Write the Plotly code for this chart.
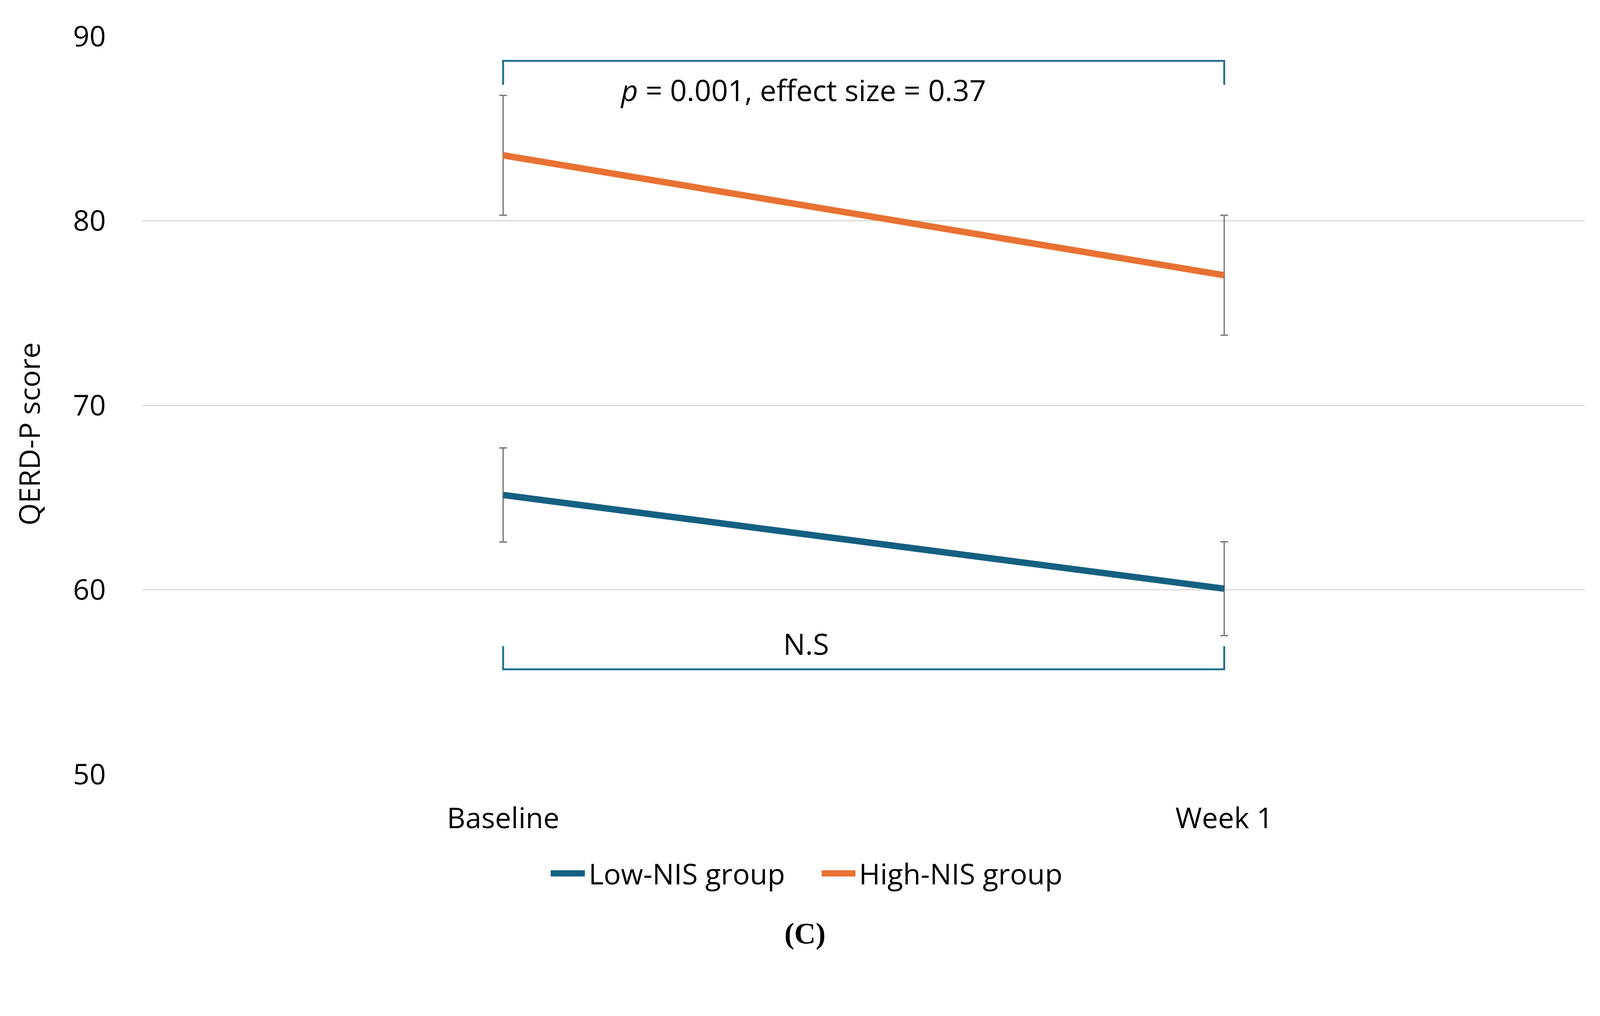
import plotly.graph_objects as go

# data
timepoints = ["Baseline", "Week 1"]
groups = ["Low-NIS group", "High-NIS group"]
low_nis_mean = [65.14, 60.06]
low_nis_err = [2.55, 2.54]
high_nis_mean = [83.55, 77.05]
high_nis_err = [3.25, 3.25]

# significance brackets (x in category index, y in score units)
top_bracket_x = [0, 0, 1, 1]
top_bracket_y = [87.37, 88.67, 88.67, 87.37]
bottom_bracket_x = [0, 0, 1, 1]
bottom_bracket_y = [56.94, 55.69, 55.69, 56.94]
top_label = "<i>p</i> = 0.001, effect size = 0.37"
top_label_pos = (0.416, 87.1)
bottom_label = "N.S"
bottom_label_pos = (0.42, 57.1)

y_ticks = [50, 60, 70, 80, 90]

BLUE = "#156082"
ORANGE = "#E97132"
BRACKET = "#1b6b8c"
FONT = "Open Sans"
FS = 73.5
colors = [BLUE, ORANGE]

# page is shown in a 4096 css px wide viewport with 8px body margin
S = 4096 / 4359
W, H = 4080, 2429
L = 388 * S - 8
T = 99 * S - 8
PW = 3929 * S
PH = 2011 * S

xpos = list(range(len(timepoints)))

fig = go.Figure()

for name, mean, err, col in zip(groups, [low_nis_mean, high_nis_mean],
                                [low_nis_err, high_nis_err], colors):
    fig.add_trace(go.Scatter(
        x=xpos, y=mean, name=name, mode="lines", showlegend=False,
        line=dict(color=col, width=16.5),
        error_y=dict(type="data", array=err, visible=True,
                     color="#7f7f7f", thickness=3.6, width=10),
    ))

for bx, by in [(top_bracket_x, top_bracket_y), (bottom_bracket_x, bottom_bracket_y)]:
    fig.add_trace(go.Scatter(
        x=bx, y=by, mode="lines", showlegend=False, hoverinfo="skip",
        line=dict(color=BRACKET, width=4.7),
    ))

for txt, (ax, ay) in [(top_label, top_label_pos), (bottom_label, bottom_label_pos)]:
    fig.add_annotation(x=ax, y=ay, xref="x", yref="y", text=txt, showarrow=False,
                       xanchor="center", yanchor="middle",
                       font=dict(family=FONT, size=75, color="black"))

# y axis title
fig.add_annotation(x=-0.079, y=0.461, xref="paper", yref="paper", text="QERD-P score",
                   textangle=-90, showarrow=False, xanchor="center", yanchor="middle",
                   font=dict(family=FONT, size=FS, color="black"))

# legend (drawn by hand to get the thick swatches)
legend_swatch_x = [(0.2830, 0.3067), (0.4709, 0.4943)]
legend_text_x = [0.3087, 0.4963]
legend_y = -0.1343
for name, col, (x0, x1), tx in zip(groups, colors, legend_swatch_x, legend_text_x):
    fig.add_shape(type="line", xref="paper", yref="paper", x0=x0, x1=x1,
                  y0=legend_y, y1=legend_y, line=dict(color=col, width=16))
    fig.add_annotation(x=tx, y=legend_y, xref="paper", yref="paper", text=name,
                       showarrow=False, xanchor="left", yanchor="middle",
                       font=dict(family=FONT, size=FS, color="black"))

# panel caption
fig.add_annotation(x=0.4594, y=-0.2158, xref="paper", yref="paper", text="<b>(C)</b>",
                   showarrow=False, xanchor="center", yanchor="middle",
                   font=dict(family="Liberation Serif", size=76, color="black"))

fig.update_layout(
    width=W, height=H,
    margin=dict(l=L, r=W - L - PW, t=T, b=H - T - PH, autoexpand=False),
    plot_bgcolor="white", paper_bgcolor="white",
    font=dict(family=FONT, size=FS, color="black"),
    showlegend=False,
    xaxis=dict(range=[-0.5, 1.5], tickvals=xpos, ticktext=timepoints,
               showgrid=False, zeroline=False, showline=False,
               ticks="", ticklabelstandoff=63),
    yaxis=dict(range=[50, 90], tickvals=y_ticks, showgrid=True, gridcolor="#d9d9d9",
               gridwidth=2.8, zeroline=False, showline=False, ticks="",
               ticklabelstandoff=93),
)

fig.write_html("out.html")
